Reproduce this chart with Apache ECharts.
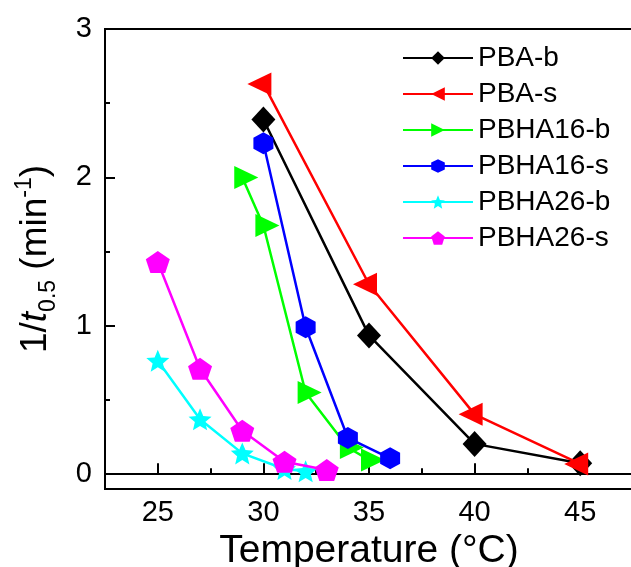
<!DOCTYPE html>
<html>
<head>
<meta charset="utf-8">
<script src="https://cdn.jsdelivr.net/npm/echarts@6/dist/echarts.min.js"></script>
<style>
html,body{margin:0;padding:0;background:#fff;}
#chart{width:631px;height:567px;}
</style>
</head>
<body>
<div id="chart"></div>
<script>
// ---- data ----
const seriesNames = ['PBA-b', 'PBA-s', 'PBHA16-b', 'PBHA16-s', 'PBHA26-b', 'PBHA26-s'];
const pbaB_T = [30, 35, 40, 45];
const pbaB_V = [2.39, 0.935, 0.204, 0.073];
const pbaS_T = [30, 35, 40, 45];
const pbaS_V = [2.63, 1.28, 0.403, 0.069];
const pbha16b_T = [29, 30, 32, 34, 35];
const pbha16b_V = [2.0, 1.676, 0.55, 0.18, 0.096];
const pbha16s_T = [30, 32, 34, 36];
const pbha16s_V = [2.23, 0.99, 0.244, 0.107];
const pbha26b_T = [25, 27, 29, 31, 32];
const pbha26b_V = [0.765, 0.37, 0.14, 0.035, 0.019];
const pbha26s_T = [25, 27, 29, 31, 33];
const pbha26s_V = [1.43, 0.71, 0.293, 0.084, 0.028];
const xTickLabels = [25, 30, 35, 40, 45];
const xMinorTicks = [27.5, 32.5, 37.5, 42.5];
const yTickLabels = [0, 1, 2, 3];
const yMinorTicks = [0.5, 1.5, 2.5];

function pairs(xs, ys) { return xs.map((x, i) => [x, ys[i]]); }

const FONT = '"Liberation Sans", Arial, sans-serif';
const STAR = 'path://M0,-10 L2.65,-3.64 L9.51,-3.09 L4.28,1.39 L5.88,8.09 L0,4.5 L-5.88,8.09 L-4.28,1.39 L-9.51,-3.09 L-2.65,-3.64 Z';
const PENTA = 'path://M0,-10 L9.51,-3.09 L5.88,8.09 L-5.88,8.09 L-9.51,-3.09 Z';
const HEXA = 'path://M0,-10 L8.66,-5 L8.66,5 L0,10 L-8.66,5 L-8.66,-5 Z';

const styles = [
  {color: '#000000', symbol: 'diamond', size: [24, 26], rotate: 0, offset: [0, 0]},
  {color: '#ff0000', symbol: 'triangle', size: [23, 24], rotate: 90, offset: [-4, 0]},
  {color: '#00ff00', symbol: 'triangle', size: [23, 24], rotate: -90, offset: [4, 0]},
  {color: '#0000ff', symbol: HEXA, size: [20, 22], rotate: 0, offset: [0, 0]},
  {color: '#00ffff', symbol: STAR, size: [23, 22], rotate: 0, offset: [0, 0]},
  {color: '#ff00ff', symbol: PENTA, size: [24, 22], rotate: 0, offset: [0, 0]}
];
const dataSets = [
  pairs(pbaB_T, pbaB_V), pairs(pbaS_T, pbaS_V), pairs(pbha16b_T, pbha16b_V),
  pairs(pbha16s_T, pbha16s_V), pairs(pbha26b_T, pbha26b_V), pairs(pbha26s_T, pbha26s_V)
];

const series = seriesNames.map((name, i) => ({
  name: name,
  type: 'line',
  xAxisIndex: 0,
  yAxisIndex: 0,
  data: dataSets[i],
  symbol: styles[i].symbol,
  symbolSize: styles[i].size,
  symbolRotate: styles[i].rotate,
  symbolOffset: styles[i].offset,
  showAllSymbol: true,
  lineStyle: {color: styles[i].color, width: 2.5},
  itemStyle: {color: styles[i].color},
  animation: false,
  z: 2 + i
}));

const axisLineStyle = {show: true, lineStyle: {color: '#000', width: 2}};

const option = {
  animation: false,
  backgroundColor: '#fff',
  grid: {left: 105, top: 29, width: 528, bottom: 78, containLabel: false, outerBoundsMode: 'none',
         show: true, borderColor: '#000', borderWidth: 2, backgroundColor: 'transparent'},
  legend: {
    orient: 'vertical', left: 397, top: 39,
    itemWidth: 70, itemHeight: 17, itemGap: 8,
    data: seriesNames,
    textStyle: {fontFamily: FONT, fontSize: 28, color: '#000', lineHeight: 28}
  },
  xAxis: [
    {
      type: 'value', min: 22.5, max: 47.5, position: 'bottom',
      name: 'Temperature (°C)', nameLocation: 'middle', nameGap: 36,
      nameTextStyle: {fontFamily: FONT, fontSize: 39, color: '#000'},
      axisLine: axisLineStyle,
      axisTick: {show: true, inside: true, length: 11, lineStyle: {color: '#000', width: 2}, customValues: xTickLabels},
      axisLabel: {fontFamily: FONT, fontSize: 29, color: '#000', margin: 9, customValues: xTickLabels},
      splitLine: {show: false}
    },
    {
      type: 'value', min: 22.5, max: 47.5, position: 'bottom',
      axisLine: {show: false},
      axisTick: {show: true, inside: true, length: 6, lineStyle: {color: '#000', width: 2}, customValues: xMinorTicks},
      axisLabel: {show: false, customValues: xMinorTicks},
      splitLine: {show: false}
    }
  ],
  yAxis: [
    {
      type: 'value', min: -0.1, max: 3, position: 'left',
      name: '{n|1/}{i|t}{sub|0.5}{n| (min}{sup|-1}{n|)}',
      nameLocation: 'middle', nameRotate: 90, nameGap: 45,
      nameTextStyle: {
        fontFamily: FONT, fontSize: 37, color: '#000',
        rich: {
          n: {fontFamily: FONT, fontSize: 37, color: '#000'},
          i: {fontFamily: FONT, fontSize: 37, fontStyle: 'italic', color: '#000'},
          sub: {fontFamily: FONT, fontSize: 23, color: '#000', padding: [26, 0, 0, 0]},
          sup: {fontFamily: FONT, fontSize: 23, color: '#000', padding: [0, 0, 22, 0]}
        }
      },
      axisLine: axisLineStyle,
      axisTick: {show: true, inside: true, length: 10, lineStyle: {color: '#000', width: 2}, customValues: yTickLabels},
      axisLabel: {fontFamily: FONT, fontSize: 29, color: '#000', margin: 13, customValues: yTickLabels},
      splitLine: {show: false}
    },
    {
      type: 'value', min: -0.1, max: 3, position: 'left',
      axisLine: {show: false},
      axisTick: {show: true, inside: true, length: 5, lineStyle: {color: '#000', width: 2}, customValues: yMinorTicks},
      axisLabel: {show: false, customValues: yMinorTicks},
      splitLine: {show: false}
    }
  ],
  series: series
};

const chart = echarts.init(document.getElementById('chart'), null, {renderer: 'canvas'});
chart.setOption(option);
</script>
</body>
</html>
